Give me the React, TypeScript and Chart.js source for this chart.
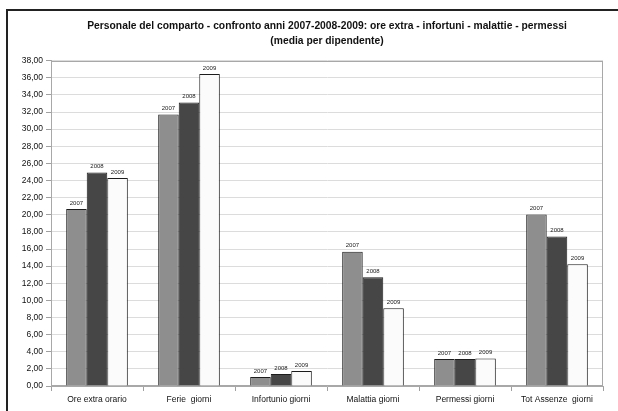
import React, { useEffect, useRef } from "react";
import { Chart, registerables } from "chart.js";

Chart.register(...registerables);

// Categories and per-employee averages for each year
const categories = [
  "Ore extra orario",
  "Ferie  giorni",
  "Infortunio giorni",
  "Malattia giorni",
  "Permessi giorni",
  "Tot Assenze  giorni",
];
const years = ["2007", "2008", "2009"];
const values2007 = [20.67, 31.7, 1.05, 15.67, 3.16, 20.04];
const values2008 = [24.95, 33.1, 1.4, 12.71, 3.16, 17.47];
const values2009 = [24.29, 36.45, 1.75, 9.08, 3.2, 14.23];
const yearColors = ["#8e8e8e", "#464646", "#fbfbfb"];
const titleLines = [
  "Personale del comparto - confronto anni 2007-2008-2009: ore extra - infortuni - malattie - permessi",
  "(media per dipendente)",
];

const FONT = "'Liberation Sans', Arial, sans-serif";

// Writes the year above every bar
const yearLabels = {
  id: "yearLabels",
  afterDatasetsDraw(chart: any) {
    const ctx = chart.ctx;
    ctx.save();
    ctx.font = `6px ${FONT}`;
    ctx.fillStyle = "#222";
    ctx.textAlign = "center";
    ctx.textBaseline = "bottom";
    chart.data.datasets.forEach((ds: any, i: number) => {
      const meta = chart.getDatasetMeta(i);
      meta.data.forEach((bar: any) => {
        ctx.fillText(ds.label, bar.x, bar.y - 3);
      });
    });
    ctx.restore();
  },
};

// Grey frame around the plot area
const plotFrame = {
  id: "plotFrame",
  beforeDatasetsDraw(chart: any) {
    const { ctx, chartArea } = chart;
    ctx.save();
    ctx.strokeStyle = "#a8a8a8";
    ctx.lineWidth = 1;
    ctx.strokeRect(
      Math.round(chartArea.left) + 0.5,
      Math.round(chartArea.top) + 0.5,
      Math.round(chartArea.right - chartArea.left) - 1,
      Math.round(chartArea.bottom - chartArea.top) - 1
    );
    ctx.restore();
  },
};

export default function App() {
  const canvasRef = useRef<HTMLCanvasElement | null>(null);

  useEffect(() => {
    if (!canvasRef.current) return;
    const series = [values2007, values2008, values2009];
    const chart = new Chart(canvasRef.current, {
      type: "bar",
      data: {
        labels: categories,
        datasets: years.map((y, i) => ({
          label: y,
          data: series[i],
          backgroundColor: yearColors[i],
          borderColor: "#1c1c1c",
          borderWidth: 1,
          categoryPercentage: 0.67,
          barPercentage: 1,
        })),
      },
      options: {
        responsive: false,
        animation: false,
        layout: { padding: { left: 0, right: 15, top: 0, bottom: 0 } },
        plugins: {
          legend: { display: false },
          tooltip: { enabled: false },
          title: {
            display: true,
            fullSize: false,
            text: titleLines,
            color: "#111",
            font: { family: FONT, size: 10.3, weight: "bold", lineHeight: 1.44 },
            padding: { top: 19, bottom: 12 },
          },
        },
        scales: {
          x: {
            offset: true,
            grid: {
              offset: true,
              drawOnChartArea: false,
              drawTicks: true,
              tickLength: 5,
              tickColor: "#a0a0a0",
            },
            border: { color: "#a8a8a8" },
            ticks: {
              color: "#111",
              font: { family: FONT, size: 8.5 },
              padding: 4,
              maxRotation: 0,
              autoSkip: false,
            },
            afterFit(scale: any) {
              scale.height = 25;
            },
          },
          y: {
            min: 0,
            max: 38,
            grid: {
              color: "#dcdcdc",
              tickColor: "#a0a0a0",
              tickLength: 5,
            },
            border: { color: "#a8a8a8" },
            ticks: {
              stepSize: 2,
              color: "#111",
              font: { family: FONT, size: 8.5 },
              padding: 3,
              callback: (v: any) => Number(v).toFixed(2).replace(".", ","),
            },
            afterFit(scale: any) {
              scale.width = 51;
            },
          },
        },
      },
      plugins: [plotFrame, yearLabels],
    });
    return () => chart.destroy();
  }, []);

  return (
    <div
      style={{
        position: "fixed",
        left: 0,
        top: 0,
        width: 618,
        height: 411,
        background: "#fff",
        overflow: "hidden",
      }}
    >
      <div
        style={{
          position: "absolute",
          left: 6,
          top: 9,
          width: 640,
          height: 420,
          borderLeft: "2px solid #222",
          borderTop: "2px solid #222",
          boxSizing: "border-box",
        }}
      />
      <canvas
        ref={canvasRef}
        width={618}
        height={411}
        style={{ position: "absolute", left: 0, top: 0 }}
      />
    </div>
  );
}
